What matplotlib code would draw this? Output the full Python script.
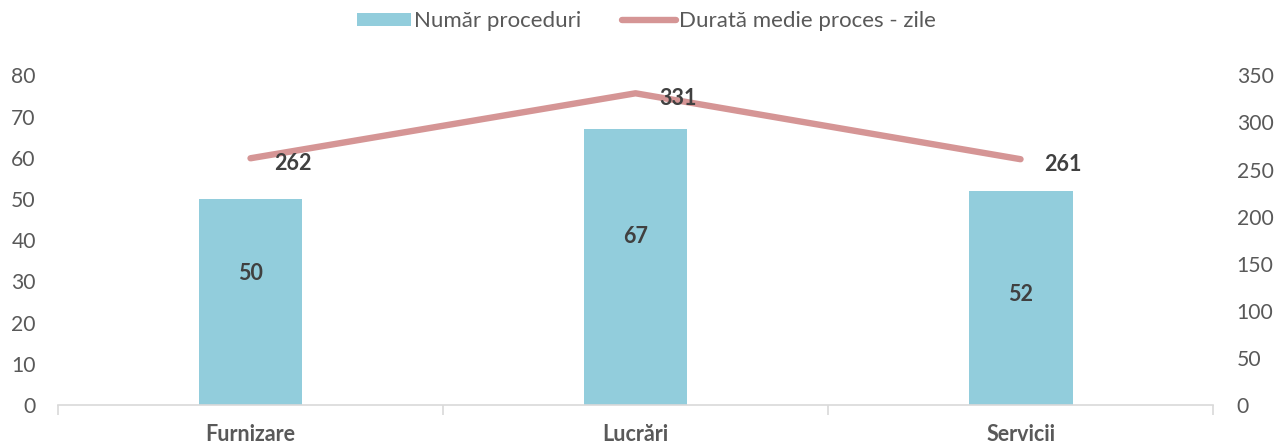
import matplotlib.pyplot as plt
import numpy as np

plt.rcParams['font.family'] = ['Lato', 'DejaVu Sans']

categories = ['Furnizare', 'Lucrări', 'Servicii']
proceduri = [50, 67, 52]
durata = [262, 331, 261]
# where the bar value labels sit (left axis units)
bar_label_y = [32, 40.8, 26.7]

bar_color = '#92CDDC'
line_color = '#D59595'
text_color = '#595959'
label_color = '#404040'
grid_color = '#D9D9D9'

fig = plt.figure(figsize=(12.75, 4.43), dpi=100)
ax = fig.add_axes([0.0455, 0.0858, 0.9059, 0.744])
ax2 = ax.twinx()

x = np.arange(len(categories))
bars = ax.bar(x, proceduri, width=0.27, color=bar_color, zorder=2,
              label='Număr proceduri')
ln, = ax2.plot(x, durata, color=line_color, lw=4.6, solid_capstyle='round',
               solid_joinstyle='round', label='Durată medie proces - zile')

ax.set_xlim(-0.5, 2.5)
ax.set_ylim(0, 80)
ax2.set_ylim(0, 350)
ax.set_yticks(range(0, 81, 10))
ax2.set_yticks(range(0, 351, 50))

for a in (ax, ax2):
    for s in a.spines.values():
        s.set_visible(False)
    a.tick_params(axis='y', length=0, labelsize=15.2, labelcolor=text_color)

ax.tick_params(axis='y', pad=16)
ax2.tick_params(axis='y', pad=17)
ax.spines['bottom'].set_visible(True)
ax.spines['bottom'].set_color(grid_color)
ax.spines['bottom'].set_linewidth(1.2)

ax.set_xticks(x)
ax.set_xticklabels(categories, fontsize=15.5, fontweight='bold', color=text_color)
ax.tick_params(axis='x', length=0, pad=14)
ax.set_xticks([-0.5, 0.5, 1.5, 2.5], minor=True)
ax.tick_params(axis='x', which='minor', length=7, color=grid_color, width=1.2)

for xi, v, ly in zip(x, proceduri, bar_label_y):
    ax.text(xi, ly, str(v), ha='center', va='center', fontsize=15.5,
            fontweight='bold', color=label_color, zorder=4)

for xi, v in zip(x, durata):
    ax2.annotate(str(v), (xi, v), xytext=(17, -3.5), textcoords='offset points',
                 ha='left', va='center', fontsize=15.5, fontweight='bold',
                 color=label_color)

fig.legend([bars, ln], ['Număr proceduri', 'Durată medie proces - zile'],
           loc='center', bbox_to_anchor=(0.507, 0.952), ncol=2, frameon=False,
           fontsize=16, labelcolor=text_color, handlelength=2.45,
           handleheight=0.55, handletextpad=0.15, columnspacing=1.8)

fig.savefig('out.png', dpi=100)
